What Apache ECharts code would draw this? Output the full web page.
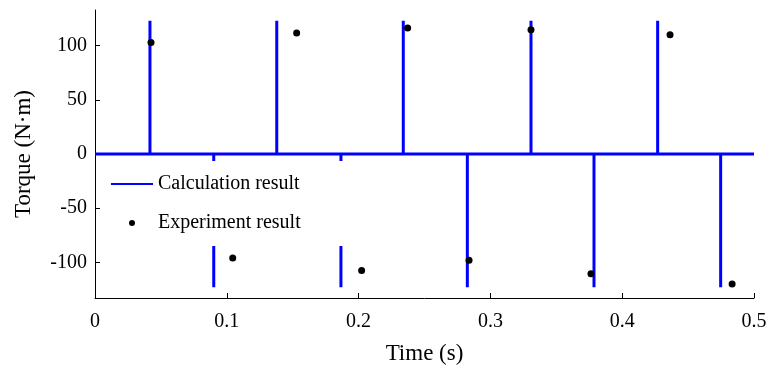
<!DOCTYPE html>
<html>
<head>
<meta charset="utf-8">
<script src="https://cdn.jsdelivr.net/npm/echarts@6/dist/echarts.min.js"></script>
<style>
  html, body { margin: 0; padding: 0; background: #fff; }
  #chart { width: 768px; height: 367px; }
</style>
</head>
<body>
<div id="chart"></div>
<script>
// calculated torque pulses (s, N·m)
const spikeTimes = [0.0417, 0.0901, 0.1379, 0.1866, 0.2339, 0.2825, 0.3308, 0.3786, 0.4269, 0.4747]
const spikeValues = [123, -123, 123, -123, 123, -123, 123, -123, 123, -123]

// measured points
const expTimes = [0.0425, 0.1045, 0.153, 0.2023, 0.2372, 0.2838, 0.3308, 0.3763, 0.4363, 0.4834]
const expValues = [103, -96, 111.7, -107.5, 116.3, -98.2, 114.8, -110.5, 110.2, -120]

const yTicks = [-100, -50, 0, 50, 100]

const calcData = [[0, 0]]
spikeTimes.forEach((t, i) => {
  calcData.push([t, 0], [t, spikeValues[i]], [t, 0])
})
calcData.push([0.5, 0])

const expData = expTimes.map((t, i) => [t, expValues[i]])

const font = 'Liberation Serif, Times New Roman, serif'

const chart = echarts.init(document.getElementById('chart'))
chart.setOption({
  animation: false,
  grid: { left: 95, right: 14, top: 10, bottom: 69, outerBoundsMode: 'none' },
  legend: {
    orient: 'vertical',
    left: 101,
    top: 161,
    padding: [12, 50, 12, 9],
    backgroundColor: '#fff',
    itemWidth: 42,
    itemHeight: 6,
    itemGap: 17,
    textStyle: { fontFamily: font, fontSize: 20, color: '#000', lineHeight: 22 },
    data: [
      { name: 'Calculation result', itemStyle: { opacity: 0 } },
      { name: 'Experiment result', icon: 'circle' }
    ]
  },
  xAxis: {
    type: 'value',
    min: 0,
    max: 0.5,
    interval: 0.1,
    name: 'Time (s)',
    nameLocation: 'middle',
    nameGap: 44,
    nameTextStyle: { fontFamily: font, fontSize: 23, color: '#000' },
    axisLine: { onZero: false, lineStyle: { color: '#000', width: 1 } },
    axisTick: { inside: true, length: 5, lineStyle: { color: '#000' } },
    axisLabel: { fontFamily: font, fontSize: 20, color: '#000', margin: 14 },
    splitLine: { show: false }
  },
  yAxis: {
    type: 'value',
    min: -133,
    max: 133,
    name: 'Torque (N·m)',
    nameLocation: 'middle',
    nameGap: 60,
    nameTextStyle: { fontFamily: font, fontSize: 23, color: '#000' },
    axisLine: { show: true, lineStyle: { color: '#000', width: 1 } },
    axisTick: { inside: true, length: 5, lineStyle: { color: '#000' }, customValues: yTicks },
    axisLabel: { fontFamily: font, fontSize: 20, color: '#000', margin: 8, customValues: yTicks },
    splitLine: { show: false }
  },
  series: [
    {
      name: 'Calculation result',
      type: 'line',
      data: calcData,
      showSymbol: false,
      symbol: 'none',
      lineStyle: { color: '#0000ff', width: 3 },
      itemStyle: { color: '#0000ff' },
      z: 2
    },
    {
      name: 'Experiment result',
      type: 'scatter',
      data: expData,
      symbol: 'circle',
      symbolSize: 7,
      itemStyle: { color: '#000', opacity: 1 },
      z: 3
    }
  ]
})
</script>
</body>
</html>
